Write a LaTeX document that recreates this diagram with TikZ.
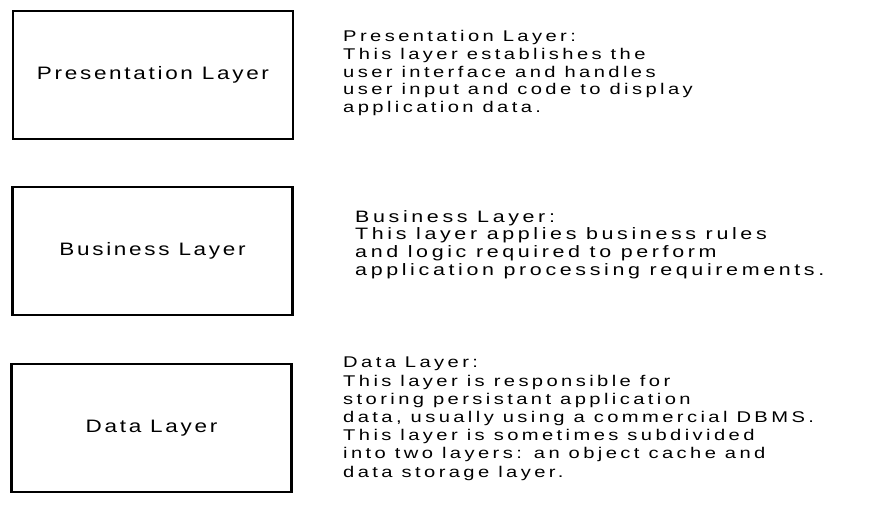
\documentclass[tikz,border=0pt]{standalone}
\usepackage{fontspec}
\setmainfont{Liberation Sans}
\newfontfamily\boxfont[FakeStretch=1.25, LetterSpace=15]{Liberation Sans}
\newfontfamily\notefont[FakeStretch=1.3, LetterSpace=22]{Liberation Sans}

\begin{document}
\begin{tikzpicture}[x=1pt, y=-1pt,
  layerbox/.style={draw, line width=2.4pt, minimum width=280pt, minimum height=128pt,
    inner sep=0pt, font=\boxfont\fontsize{18}{21}\selectfont},
  layernote/.style={anchor=north west, align=left, inner sep=0pt,
    font=\notefont\fontsize{15.5}{17.8}\selectfont}]
  \useasboundingbox (0,0) rectangle (872,506);
  % ---------- 1. presentation ----------
  \node[layerbox] (pres) at (153,75) {Presentation Layer};
  \node[layernote] (presnote) at (343,30) {Presentation Layer:\\
    This layer establishes the\\
    user interface and handles\\
    user input and code to display\\
    application data.};
  % ---------- 2. business ----------
  \node[layerbox] (bus) at (152.5,251) {Business Layer};
  \node[layernote, font=\notefont\fontsize{16.5}{17.8}\selectfont] (busnote) at (355,210) {Business Layer:\\
    This layer applies business rules\\
    and logic required to perform\\
    application processing requirements.};
  % ---------- 3. data ----------
  \node[layerbox] (data) at (151.5,428) {Data Layer};
  \node[layernote, font=\notefont\fontsize{15.5}{18.2}\selectfont] (datanote) at (343,357) {Data Layer:\\
    This layer is responsible for\\
    storing persistant application\\
    data, usually using a commercial DBMS.\\
    This layer is sometimes subdivided\\
    into two layers: an object cache and\\
    data storage layer.};
\end{tikzpicture}
\end{document}
